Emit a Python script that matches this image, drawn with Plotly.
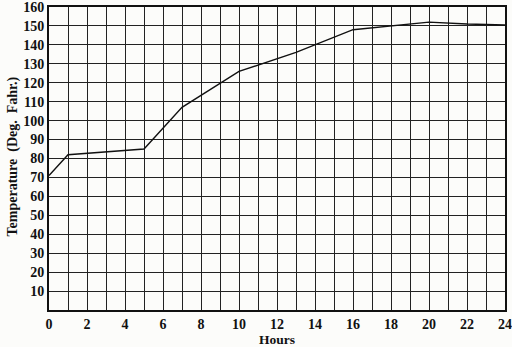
import plotly.graph_objects as go

hours = [0, 1, 5, 7, 10, 13, 16, 18, 20, 22, 24]
temps = [71, 82, 85, 107, 126, 136, 148, 150, 152, 151, 150.5]

x_ticks = list(range(0, 25, 2))
y_ticks = list(range(10, 161, 10))

fig = go.Figure()
fig.add_trace(go.Scatter(x=hours, y=temps, mode="lines",
                         line=dict(color="#111", width=1.4), showlegend=False))

font = dict(family="Liberation Serif, DejaVu Serif, serif", color="#111")

fig.update_layout(
    width=512, height=347,
    margin=dict(l=49, r=7, t=7, b=37),
    paper_bgcolor="#fcfcfa", plot_bgcolor="#fcfcfa",
    font=font,
    xaxis=dict(range=[0, 24], tickmode="array", tickvals=x_ticks,
               ticktext=[f"<b>{v}</b>" for v in x_ticks],
               tickfont=dict(size=14, **font), ticks="", ticklen=0,
               ticklabeloverflow="allow",
               showgrid=False, zeroline=False, automargin=False,
               minor=dict(dtick=1, tick0=0, showgrid=True, gridcolor="#222", gridwidth=1),
               showline=True, linecolor="#111", linewidth=2, mirror=True),
    yaxis=dict(range=[0, 160], tickmode="array", tickvals=y_ticks,
               ticktext=[f"<b>{v}</b>" for v in y_ticks],
               tickfont=dict(size=14, **font), ticks="", ticklen=0,
               ticklabeloverflow="allow",
               showgrid=True, gridcolor="#222", gridwidth=1, zeroline=False,
               automargin=False,
               showline=True, linecolor="#111", linewidth=2, mirror=True),
    annotations=[
        dict(text="<b>Hours</b>", x=0.5, y=0, xref="paper", yref="paper",
             xanchor="center", yanchor="middle", yshift=-29, showarrow=False,
             font=dict(size=13.5, **font)),
        dict(text="<b>Temperature  (Deg.  Fahr.)</b>", x=0, y=0.5, xref="paper", yref="paper",
             xanchor="center", yanchor="middle", xshift=-37, yshift=2, textangle=-90,
             showarrow=False, font=dict(size=14, **font)),
    ],
)

fig.write_html("out.html", config={"displayModeBar": False},
               post_script="document.body.style.margin='0';")
